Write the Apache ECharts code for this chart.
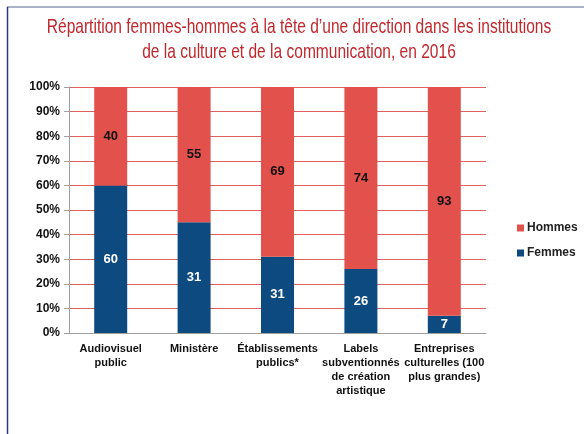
<!DOCTYPE html>
<html>
<head>
<meta charset="utf-8">
<script src="https://cdn.jsdelivr.net/npm/echarts@6/dist/echarts.min.js"></script>
<style>
  html, body { margin: 0; padding: 0; background: #fff; }
  #chart { width: 584px; height: 434px; }
</style>
</head>
<body>
<div id="chart"></div>
<script>
const titleLines = [
  'Répartition femmes-hommes à la tête d\u2019une direction dans les institutions',
  'de la culture et de la communication, en 2016'
];
const categories = [
  'Audiovisuel\npublic',
  'Ministère',
  'Établissements\npublics*',
  'Labels\nsubventionnés\nde création\nartistique',
  'Entreprises\nculturelles (100\nplus grandes)'
];
const femmes = [60, 45, 31, 26, 7];
const femmesLabels = [60, 31, 31, 26, 7];
const hommes = [40, 55, 69, 74, 93];

const chart = echarts.init(document.getElementById('chart'));
const labelFont = 'Liberation Sans, Arial, sans-serif';

chart.setOption({
  animation: false,
  graphic: [
    { type: 'line', shape: { x1: 7, y1: 7, x2: 584, y2: 7 }, style: { stroke: '#8e94b8', lineWidth: 1.5 } },
    { type: 'line', shape: { x1: 7.5, y1: 7, x2: 7.5, y2: 434 }, style: { stroke: '#2e3780', lineWidth: 1.5 } },
    {
      type: 'text',
      x: 299, y: 15,
      scaleX: 0.74,
      style: {
        text: titleLines.join('\n'),
        align: 'center',
        verticalAlign: 'top',
        font: 'normal 21px Liberation Sans, Arial, sans-serif',
        lineHeight: 25,
        fill: '#c0282d'
      }
    }
  ],
  legend: {
    orient: 'vertical',
    left: 512,
    top: 217,
    itemWidth: 7,
    itemHeight: 7,
    itemGap: 13,
    icon: 'rect',
    data: ['Hommes', 'Femmes'],
    textStyle: { fontFamily: labelFont, fontWeight: 'bold', fontSize: 12, color: '#222', padding: [0, 0, 0, -2] }
  },
  grid: { left: 69, right: 98, top: 87, bottom: 101 },
  xAxis: {
    type: 'category',
    data: categories,
    axisLine: { lineStyle: { color: '#a0a0a0' } },
    axisTick: { length: 5, lineStyle: { color: '#a0a0a0' } },
    axisLabel: {
      interval: 0,
      margin: 9,
      fontFamily: labelFont,
      fontWeight: 'bold',
      fontSize: 11,
      lineHeight: 14,
      color: '#111'
    }
  },
  yAxis: {
    type: 'value',
    min: 0,
    max: 100,
    interval: 10,
    axisLine: { show: true, lineStyle: { color: '#a0a0a0' } },
    axisTick: { show: true, length: 5, lineStyle: { color: '#a0a0a0' } },
    splitLine: { lineStyle: { color: '#e06060', width: 1 } },
    axisLabel: {
      formatter: '{value}%',
      margin: 9,
      fontFamily: labelFont,
      fontWeight: 'bold',
      fontSize: 12,
      color: '#111'
    }
  },
  series: [
    {
      name: 'Femmes',
      type: 'bar',
      stack: 'total',
      barWidth: 33,
      data: femmes,
      itemStyle: { color: '#0c4a80' },
      label: {
        show: true,
        position: 'inside',
        formatter: p => femmesLabels[p.dataIndex],
        fontFamily: labelFont,
        fontWeight: 'bold',
        fontSize: 13,
        color: '#fff'
      }
    },
    {
      name: 'Hommes',
      type: 'bar',
      stack: 'total',
      barWidth: 33,
      data: hommes,
      itemStyle: { color: '#e2514c' },
      label: {
        show: true,
        position: 'inside',
        fontFamily: labelFont,
        fontWeight: 'bold',
        fontSize: 13,
        color: '#111'
      }
    }
  ]
});
</script>
</body>
</html>
